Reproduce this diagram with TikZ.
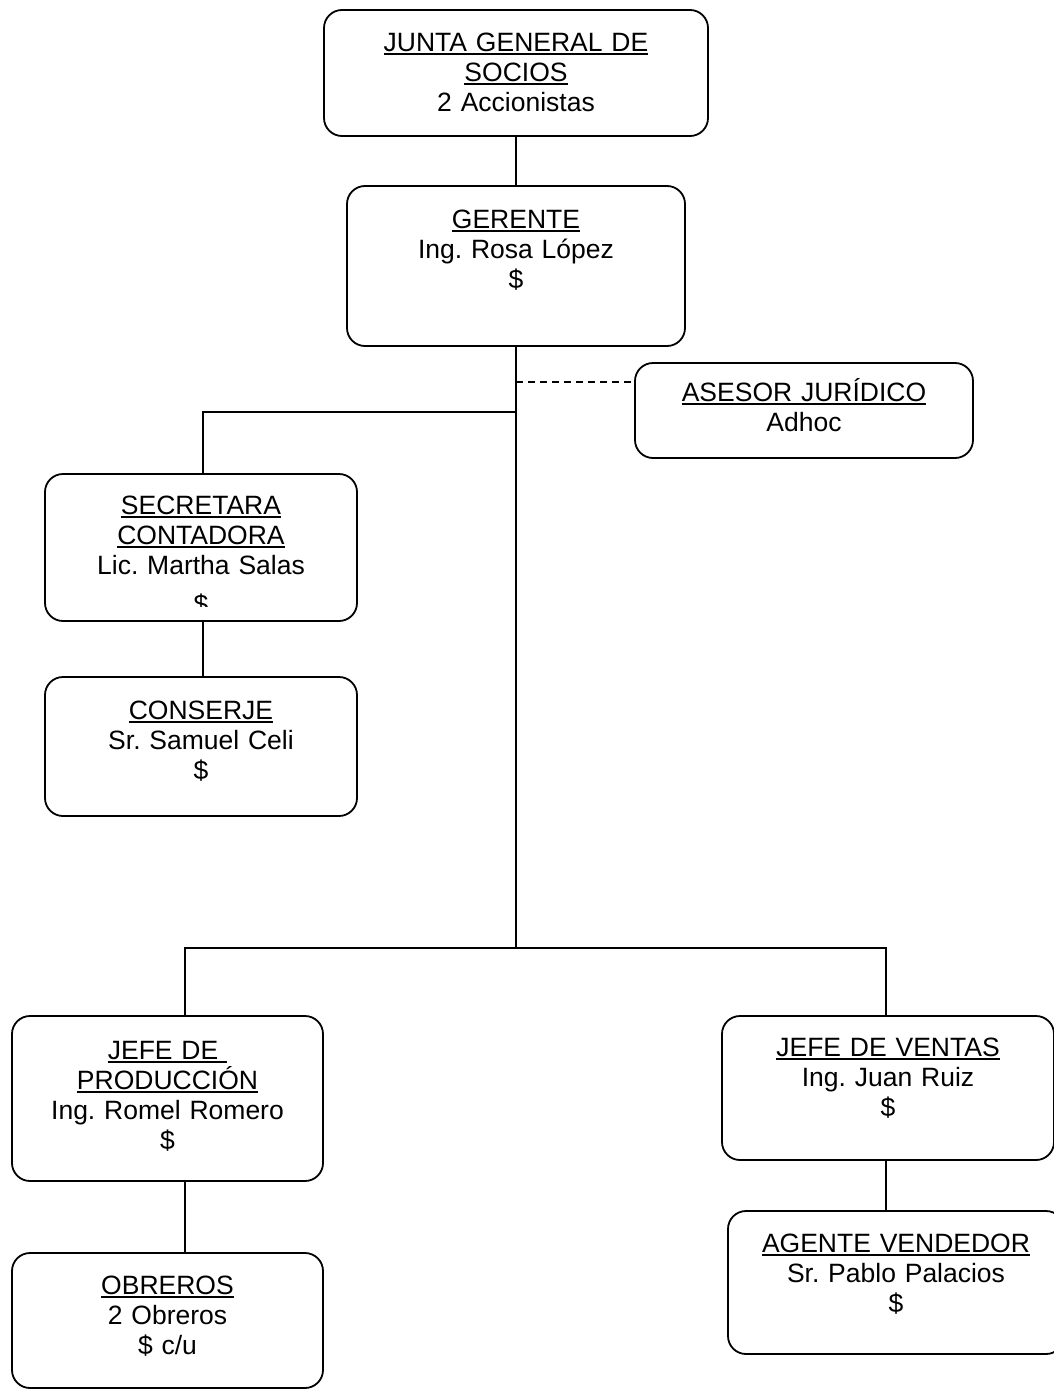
\documentclass[tikz,border=0pt]{standalone}
\usepackage{fontspec}
\setmainfont{Liberation Sans}
\frenchspacing
% underlined title line with a thick rule just below the baseline
\newcommand{\ulbox}[1]{\leavevmode\setbox0=\hbox{#1}\rlap{\rule[-3.5pt]{\wd0}{1.7pt}}\box0}
\tikzset{
  orgbox/.style={draw, line width=1.8pt, rounded corners=18pt, inner sep=0pt},
  orgtext/.style={align=center, inner sep=0pt, anchor=base,
                  font=\fontsize{26.5}{30}\selectfont},
  link/.style={line width=1.8pt},
  dashlink/.style={line width=1.8pt, dash pattern=on 7pt off 5pt},
}
\begin{document}
\begin{tikzpicture}[x=1pt, y=-1pt]
\useasboundingbox (0,0) rectangle (1053,1391);

% boxes
\node[orgbox, minimum width=384pt, minimum height=126pt] (jgs) at (516,73) {};
\node[orgbox, minimum width=338pt, minimum height=160pt] (ger) at (516,266) {};
\node[orgbox, minimum width=338pt, minimum height=95pt]  (ase) at (804,410.5) {};
\node[orgbox, minimum width=312pt, minimum height=147pt] (sec) at (201,547.5) {};
\node[orgbox, minimum width=312pt, minimum height=139pt] (con) at (201,746.5) {};
\node[orgbox, minimum width=311pt, minimum height=165pt] (jpr) at (167.5,1098.5) {};
\node[orgbox, minimum width=311pt, minimum height=135pt] (obr) at (167.5,1320.5) {};
\node[orgbox, minimum width=332pt, minimum height=144pt] (jve) at (888,1088) {};
\node[orgbox, minimum width=336pt, minimum height=143pt] (age) at (896,1282.5) {};

% texts
\node[orgtext, text width=384pt] (tjgs) at ([yshift=-42pt]jgs.north)
  {\ulbox{JUNTA GENERAL DE}\\\ulbox{SOCIOS}\\2 Accionistas};
\node[orgtext, text width=338pt] (tger) at ([yshift=-43pt]ger.north)
  {\ulbox{GERENTE}\\Ing. Rosa López\\\$};
\node[orgtext, text width=338pt] (tase) at ([yshift=-39pt]ase.north)
  {\ulbox{ASESOR JURÍDICO}\\Adhoc};
\node[orgtext, text width=312pt] (tsec) at ([yshift=-41pt]sec.north)
  {\ulbox{SECRETARA}\\\ulbox{CONTADORA}\\Lic. Martha Salas};
% last line of this box is cut off by the text frame
\begin{scope}
  \clip (0,0) rectangle (1053,606);
  \node[orgtext] (tsecd) at ([yshift=-140pt]sec.north) {\$};
\end{scope}
\node[orgtext, text width=312pt] (tcon) at ([yshift=-43pt]con.north)
  {\ulbox{CONSERJE}\\Sr. Samuel Celi\\\$};
\node[orgtext, text width=311pt] (tjpr) at ([yshift=-44pt]jpr.north)
  {\ulbox{JEFE DE\ }\\\ulbox{PRODUCCIÓN}\\Ing. Romel Romero\\\$};
\node[orgtext, text width=311pt] (tobr) at ([yshift=-42pt]obr.north)
  {\ulbox{OBREROS}\\2 Obreros\\\$ c/u};
\node[orgtext, text width=332pt] (tjve) at ([yshift=-41pt]jve.north)
  {\ulbox{JEFE DE VENTAS}\\Ing. Juan Ruiz\\\$};
\node[orgtext, text width=336pt] (tage) at ([yshift=-42pt]age.north)
  {\ulbox{AGENTE VENDEDOR}\\Sr. Pablo Palacios\\\$};

% junction points on the main trunk
\coordinate (tadv) at (516,382);
\coordinate (tsecj) at (516,412);
\coordinate (tbot) at (516,948);

% connectors
\draw[link] (jgs.south) -- (ger.north);
\draw[link] (ger.south) -- (tbot);
\draw[dashlink] (tadv) -- (tadv -| ase.west);
\draw[link] (tsecj) -| ([xshift=2pt]sec.north);
\draw[link] ([xshift=2pt]sec.south) -- ([xshift=2pt]con.north);
\draw[link] (tbot) -| ([xshift=17.5pt]jpr.north);
\draw[link] (tbot) -| ([xshift=-2pt]jve.north);
\draw[link] ([xshift=17.5pt]jpr.south) -- ([xshift=17.5pt]obr.north);
\draw[link] ([xshift=-2pt]jve.south) -- ([xshift=-10pt]age.north);
\end{tikzpicture}
\end{document}
